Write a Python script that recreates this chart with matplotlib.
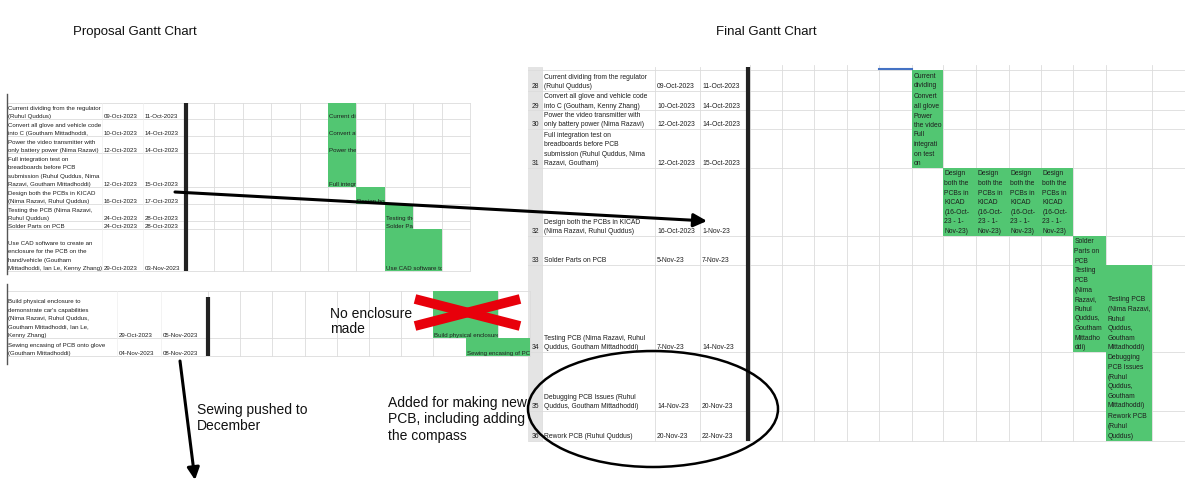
import datetime as dt
import matplotlib
matplotlib.use("Agg")
import matplotlib.pyplot as plt
from matplotlib.patches import Ellipse

plt.rcParams['font.family'] = ['Liberation Sans', 'DejaVu Sans']

# ---------------- data ----------------
prop_tasks = [
    "Current dividing from the regulator\n(Ruhul Quddus)",
    "Convert all glove and vehicle code\ninto C (Goutham Mittadhoddi,",
    "Power the video transmitter with\nonly battery power (Nima Razavi)",
    "Full integration test on\nbreadboards before PCB\nsubmission (Ruhul Quddus, Nima\nRazavi, Goutham Mittadhoddi)",
    "Design both the PCBs in KICAD\n(Nima Razavi, Ruhul Quddus)",
    "Testing the PCB (Nima Razavi,\nRuhul Quddus)",
    "Solder Parts on PCB",
    "Use CAD software to create an\nenclosure for the PCB on the\nhand/vehicle (Goutham\nMittadhoddi, Ian Le, Kenny Zhang)",
]
prop_start = ["09-Oct-2023", "10-Oct-2023", "12-Oct-2023", "12-Oct-2023",
              "16-Oct-2023", "24-Oct-2023", "24-Oct-2023", "29-Oct-2023"]
prop_end = ["11-Oct-2023", "14-Oct-2023", "14-Oct-2023", "15-Oct-2023",
            "17-Oct-2023", "28-Oct-2023", "28-Oct-2023", "03-Nov-2023"]

prop2_tasks = [
    "Build physical enclosure to\ndemonstrate car's capabilities\n(Nima Razavi, Ruhul Quddus,\nGoutham Mittadhoddi, Ian Le,\nKenny Zhang)",
    "Sewing encasing of PCB onto glove\n(Goutham Mittadhoddi)",
]
prop2_start = ["29-Oct-2023", "04-Nov-2023"]
prop2_end = ["05-Nov-2023", "08-Nov-2023"]

final_rows = [28, 29, 30, 31, 32, 33, 34, 35, 36]
final_tasks = [
    "Current dividing from the regulator\n(Ruhul Quddus)",
    "Convert all glove and vehicle code\ninto C (Goutham, Kenny Zhang)",
    "Power the video transmitter with\nonly battery power (Nima Razavi)",
    "Full integration test on\nbreadboards before PCB\nsubmission (Ruhul Quddus, Nima\nRazavi, Goutham)",
    "Design both the PCBs in KICAD\n(Nima Razavi, Ruhul Quddus)",
    "Solder Parts on PCB",
    "Testing PCB (Nima Razavi, Ruhul\nQuddus, Goutham Mittadhoddi)",
    "Debugging PCB Issues (Ruhul\nQuddus, Goutham Mittadhoddi)",
    "Rework PCB (Ruhul Quddus)",
]
final_start = ["09-Oct-2023", "10-Oct-2023", "12-Oct-2023", "12-Oct-2023",
               "16-Oct-2023", "5-Nov-23", "7-Nov-23", "14-Nov-23", "20-Nov-23"]
final_end = ["11-Oct-2023", "14-Oct-2023", "14-Oct-2023", "15-Oct-2023",
             "1-Nov-23", "7-Nov-23", "14-Nov-23", "20-Nov-23", "22-Nov-23"]
# timeline column (first column) and number of columns per final task
final_col = [5, 5, 5, 5, 6, 10, 10, 11, 11]
final_span = [1, 1, 1, 1, 4, 1, 2, 1, 1]
# text shown inside the final timeline cells: (row index, column, text, alignment)
final_cell_text = [
    (0, 5, "Current\ndividing", "top"),
    (1, 5, "Convert\nall glove", "top"),
    (2, 5, "Power\nthe video", "top"),
    (3, 5, "Full\nintegrati\non test\non", "top"),
    (4, 6, "Design\nboth the\nPCBs in\nKICAD\n(16-Oct-\n23 - 1-\nNov-23)", "top"),
    (4, 7, "Design\nboth the\nPCBs in\nKICAD\n(16-Oct-\n23 - 1-\nNov-23)", "top"),
    (4, 8, "Design\nboth the\nPCBs in\nKICAD\n(16-Oct-\n23 - 1-\nNov-23)", "top"),
    (4, 9, "Design\nboth the\nPCBs in\nKICAD\n(16-Oct-\n23 - 1-\nNov-23)", "top"),
    (5, 10, "Solder\nParts on\nPCB", "top"),
    (6, 10, "Testing\nPCB\n(Nima\nRazavi,\nRuhul\nQuddus,\nGoutham\nMittadho\nddi)", "top"),
    (6, 11, "Testing PCB\n(Nima Razavi,\nRuhul\nQuddus,\nGoutham\nMittadhoddi)", "bottom"),
    (7, 11, "Debugging\nPCB Issues\n(Ruhul\nQuddus,\nGoutham\nMittadhoddi)", "top"),
    (8, 11, "Rework PCB\n(Ruhul\nQuddus)", "top"),
]

timeline_origin = dt.date(2023, 9, 4)  # Monday of the first week column

# ---------------- layout ----------------
GREEN = '#52c672'
GRID = '#dcdcdc'
TXT = '#1e1e1e'
LSIZE = 4.4   # proposal table text
RSIZE = 4.9   # final table text

fig = plt.figure(figsize=(11.85, 4.85), dpi=100)
ax = fig.add_axes([0, 0, 1, 1])
ax.set_xlim(0, 1185)
ax.set_ylim(485, 0)
ax.axis('off')
renderer = fig.canvas.get_renderer()


def week_col(s):
    d = dt.datetime.strptime(s, "%d-%b-%Y").date()
    return (d - timeline_origin).days // 7


def put_lines(x, y, text, size, lh, va='bottom', ha='left', color=TXT):
    lines = text.split('\n')
    n = len(lines)
    for i, line in enumerate(lines):
        if va == 'bottom':
            yy = y - (n - 1 - i) * lh
        else:
            yy = y + i * lh
        ax.text(x, yy, line, fontsize=size, va=va, ha=ha, color=color, zorder=4)


def bar_label(bar, x, y, text, size):
    """Excel-style label: text cut off at the right edge of its bar."""
    t = ax.text(x, y, text, fontsize=size, va='bottom', ha='left', color=TXT,
                clip_on=True, zorder=4)
    t.set_clip_path(bar)
    limit = bar.get_width() + 2
    s = text
    while len(s) > 1 and t.get_window_extent(renderer).width > limit:
        s = s[:-1]
        t.set_text(s)


def gantt_block(tasks, starts, ends, row_edges, x_text, x_start, x_end, thick_x, thick_top,
                gx0, gw, ncols, size, lh, left_x):
    top, bot = row_edges[0], row_edges[-1]
    gx1 = gx0 + gw * ncols
    for e in row_edges:
        ax.plot([left_x, gx1], [e, e], color=GRID, lw=0.6, zorder=1)
    for c in range(ncols + 1):
        ax.plot([gx0 + c * gw] * 2, [top, bot], color=GRID, lw=0.6, zorder=1)
    for xx in (x_start - 2, x_end - 2):
        ax.plot([xx, xx], [top, bot], color='#eeeeee', lw=0.5, zorder=1)
    for i, (t, s, e) in enumerate(zip(tasks, starts, ends)):
        rb = row_edges[i + 1]
        put_lines(x_text, rb - 1, t, size, lh)
        ax.text(x_start, rb - 1, s, fontsize=size, va='bottom', color=TXT)
        ax.text(x_end, rb - 1, e, fontsize=size, va='bottom', color=TXT)
        c0, c1 = week_col(s), week_col(e)
        bars = ax.bar(gx0 + c0 * gw, rb - row_edges[i], width=(c1 - c0 + 1) * gw,
                      bottom=row_edges[i], align='edge', color=GREEN, lw=0, zorder=2)
        bar_label(bars[0], gx0 + c0 * gw + 1, rb - 1, t.replace('\n', ' '), size)
    ax.plot([thick_x, thick_x], [thick_top, bot], color='#222222', lw=3, zorder=3,
            solid_capstyle='butt')


# ---- titles ----
ax.text(135, 32, "Proposal Gantt Chart", fontsize=9.5, ha='center', va='center', color='#111')
ax.text(766, 32, "Final Gantt Chart", fontsize=9.5, ha='center', va='center', color='#111')

# ---- proposal, top table ----
ax.plot([7, 7], [95, 275], color='#555555', lw=1)
gantt_block(prop_tasks, prop_start, prop_end,
            [104, 120, 137, 154, 188, 205, 222, 230, 272],
            8, 104, 145, 185.5, 104, 186, 28.4, 10, LSIZE, 8.4, 7)

# ---- proposal, bottom table ----
ax.plot([7, 7], [285, 365], color='#555555', lw=1)
gantt_block(prop2_tasks, prop2_start, prop2_end,
            [292, 339, 357],
            8, 119, 163, 207.5, 298, 208, 32.2, 10, LSIZE, 8.4, 7)

# red cross
ax.plot([415, 520], [300, 327], color='#e8000b', lw=7, solid_capstyle='butt', zorder=5)
ax.plot([415, 520], [327, 300], color='#e8000b', lw=7, solid_capstyle='butt', zorder=5)
ax.text(330, 314, "No enclosure", fontsize=10, va='center', color='#111')
ax.text(330, 329, "made", fontsize=10, va='center', color='#111')

# ---- final table ----
r_edges = [71, 92, 111, 130, 169, 237, 266, 353, 412, 442]
r_cols = [750, 782, 814, 847, 879, 912, 943, 976, 1009, 1041, 1073, 1106, 1152, 1185]
ax.add_patch(plt.Rectangle((528, 68), 14, 442 - 68, color='#e4e4e4', lw=0, zorder=0))
for e in r_edges:
    ax.plot([528, 1185], [e, e], color=GRID, lw=0.6, zorder=1)
for xx in (542, 655, 700):
    ax.plot([xx, xx], [68, 442], color=GRID, lw=0.6, zorder=1)
for xx in r_cols:
    ax.plot([xx, xx], [66, 442], color=GRID, lw=0.6, zorder=1)
for i, (n, t, s, e) in enumerate(zip(final_rows, final_tasks, final_start, final_end)):
    rb = r_edges[i + 1]
    ax.text(535.5, rb - 1.5, str(n), fontsize=RSIZE, ha='center', va='bottom', color=TXT)
    put_lines(544, rb - 1.5, t, RSIZE, 9.5)
    ax.text(657, rb - 1.5, s, fontsize=RSIZE, va='bottom', color=TXT)
    ax.text(702, rb - 1.5, e, fontsize=RSIZE, va='bottom', color=TXT)
    c0, sp = final_col[i], final_span[i]
    ax.bar(r_cols[c0], rb - r_edges[i], width=r_cols[c0 + sp] - r_cols[c0],
           bottom=r_edges[i], align='edge', color=GREEN, lw=0, zorder=2)
for (ri, c, t, va) in final_cell_text:
    if va == 'top':
        put_lines(r_cols[c] + 1.5, r_edges[ri] + 1.5, t, RSIZE, 9.6, va='top')
    else:
        put_lines(r_cols[c] + 1.5, r_edges[ri + 1] - 1.5, t, RSIZE, 9.6, va='bottom')
ax.plot([748, 748], [68, 442], color='#222222', lw=3, zorder=3, solid_capstyle='butt')
ax.plot([879, 912], [70, 70], color='#4472c4', lw=1.5, zorder=3)

# ---- arrows & annotations ----
ax.annotate('', xy=(707, 222), xytext=(175, 193),
            arrowprops=dict(arrowstyle='-|>', lw=2.2, color='black', mutation_scale=20,
                            shrinkA=0, shrinkB=0), zorder=6)
ax.annotate('', xy=(195, 481), xytext=(180, 362),
            arrowprops=dict(arrowstyle='-|>', lw=2.2, color='black', mutation_scale=18,
                            shrinkA=0, shrinkB=0), zorder=6)
ax.text(197, 410, "Sewing pushed to", fontsize=10, va='center', color='#111')
ax.text(197, 426, "December", fontsize=10, va='center', color='#111')
for k, line in enumerate(["Added for making new", "PCB, including adding", "the compass"]):
    ax.text(388, 403 + k * 16.5, line, fontsize=10, va='center', color='#111')
ax.add_patch(Ellipse((653, 410), 250, 116, fill=False, lw=1.8, color='black', zorder=6))

fig.savefig("out.png", dpi=100)
